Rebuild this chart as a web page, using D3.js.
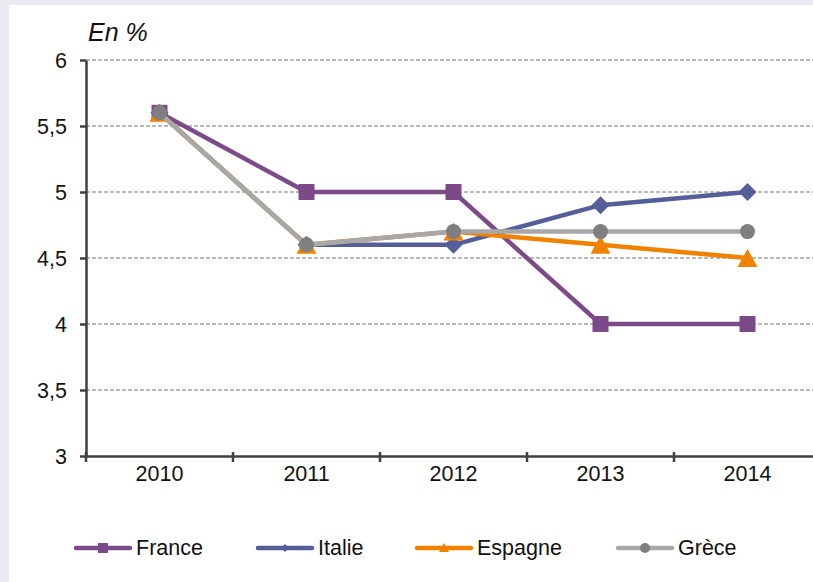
<!DOCTYPE html>
<html>
<head>
<meta charset="utf-8">
<style>
body { margin: 0; background: #e9ebf1; }
text { font-family: "Liberation Sans", Arial, sans-serif; fill: #111; }
.grid line { stroke: #777; stroke-dasharray: 4 2; stroke-width: 1; }
.axis path, .axis line { stroke: #404040; stroke-width: 2.5; }
</style>
</head>
<body>
<svg id="chart" width="813" height="582"></svg>
<script src="https://d3js.org/d3.v7.min.js"></script>
<script>

var years = ["2010", "2011", "2012", "2013", "2014"];
var yTicks = [3, 3.5, 4, 4.5, 5, 5.5, 6];

var france  = [5.6, 5.0, 5.0, 4.0, 4.0];
var italie  = [5.6, 4.6, 4.6, 4.9, 5.0];
var espagne = [5.6, 4.6, 4.7, 4.6, 4.5];
var grece   = [5.6, 4.6, 4.7, 4.7, 4.7];

var series = [
    {name: "France", values: france, color: "#7d4a89", marker: "square", mcolor: "#7d4a89"},
    {name: "Italie", values: italie, color: "#545e98", marker: "diamond", mcolor: "#545e98"},
    {name: "Espagne", values: espagne, color: "#f08200", marker: "triangle", mcolor: "#f08200"},
    {name: "Grèce", values: grece, color: "#a8a8a8", marker: "circle", mcolor: "#7f7f7f"}
];

var svg = d3.select("#chart");

// white panel
svg.append("rect")
    .attr("x", 9).attr("y", 5)
    .attr("width", 813).attr("height", 582)
    .attr("fill", "#fff");

var pLeft = 86, pTop = 60, pRight = 821, pBottom = 456;

var x = d3.scaleBand().domain(years).range([pLeft, pRight]);
var y = d3.scaleLinear().domain([3, 6]).range([pBottom, pTop]);

// gridlines
svg.append("g").attr("class", "grid")
    .selectAll("line")
    .data(yTicks.slice(1))
    .enter().append("line")
    .attr("x1", pLeft).attr("x2", 813)
    .attr("y1", function(d) { return y(d); })
    .attr("y2", function(d) { return y(d); });

// y axis
var yAxis = svg.append("g").attr("class", "axis")
    .attr("transform", "translate(" + pLeft + ",0)")
    .call(d3.axisLeft(y).tickValues(yTicks).tickSize(6).tickSizeOuter(0)
        .tickFormat(function(d) { return String(d).replace(".", ","); }));
yAxis.selectAll("text").attr("font-size", 21.5).attr("x", -19).attr("dy", "0.35em");

// x axis
var xAxis = svg.append("g").attr("class", "axis")
    .attr("transform", "translate(0," + pBottom + ")")
    .call(d3.axisBottom(x).tickSize(0).tickSizeOuter(0));
xAxis.selectAll("text").attr("font-size", 21.5).attr("y", 25).attr("dy", 0);
// boundary ticks
xAxis.selectAll(".bt")
    .data(years)
    .enter().append("line")
    .attr("x1", function(d) { return x(d); })
    .attr("x2", function(d) { return x(d); })
    .attr("y1", -4).attr("y2", 6);

svg.append("text")
    .attr("x", 88).attr("y", 41)
    .attr("font-size", 25).attr("font-style", "italic")
    .text("En %");

var line = d3.line()
    .x(function(d, i) { return x(years[i]) + x.bandwidth() / 2; })
    .y(function(d) { return y(d); });

function drawMarker(g, type, cx, cy, color) {
    if (type === "square") {
        g.append("rect").attr("x", cx - 8).attr("y", cy - 8)
            .attr("width", 16).attr("height", 16).attr("fill", color);
    } else if (type === "diamond") {
        g.append("path").attr("d", "M" + cx + "," + (cy - 9) + "L" + (cx + 9) + "," + cy +
            "L" + cx + "," + (cy + 9) + "L" + (cx - 9) + "," + cy + "Z").attr("fill", color);
    } else if (type === "triangle") {
        g.append("path").attr("d", "M" + cx + "," + (cy - 9) + "L" + (cx + 10) + "," + (cy + 9) +
            "L" + (cx - 10) + "," + (cy + 9) + "Z").attr("fill", color);
    } else {
        g.append("circle").attr("cx", cx).attr("cy", cy).attr("r", 7.5).attr("fill", color);
    }
}

series.forEach(function(s) {
    var g = svg.append("g");
    g.append("path")
        .datum(s.values)
        .attr("d", line)
        .attr("fill", "none")
        .attr("stroke", s.color)
        .attr("stroke-width", 4.5);
    s.values.forEach(function(v, i) {
        drawMarker(g, s.marker, x(years[i]) + x.bandwidth() / 2, y(v), s.mcolor);
    });
});

// legend
var legendX = [74, 256, 415, 616];
series.forEach(function(s, i) {
    var g = svg.append("g");
    var lx = legendX[i], ly = 548;
    g.append("line")
        .attr("x1", lx + 2).attr("x2", lx + 56)
        .attr("y1", ly).attr("y2", ly)
        .attr("stroke", s.color).attr("stroke-width", 4.5)
        .attr("stroke-linecap", "round");
    var m = g.append("g");
    if (s.marker === "square") {
        m.append("rect").attr("x", lx + 24).attr("y", ly - 5).attr("width", 10).attr("height", 10).attr("fill", s.mcolor);
    } else if (s.marker === "diamond") {
        m.append("path").attr("d", "M" + (lx + 29) + "," + (ly - 4) + "l4,4l-4,4l-4,-4Z").attr("fill", s.mcolor);
    } else if (s.marker === "triangle") {
        m.append("path").attr("d", "M" + (lx + 29) + "," + (ly - 5) + "l5,9l-10,0Z").attr("fill", s.mcolor);
    } else {
        m.append("circle").attr("cx", lx + 29).attr("cy", ly).attr("r", 5).attr("fill", s.mcolor);
    }
    g.append("text")
        .attr("x", lx + 62).attr("y", ly + 7)
        .attr("font-size", 21.5)
        .text(s.name);
});

</script>
</body>
</html>
